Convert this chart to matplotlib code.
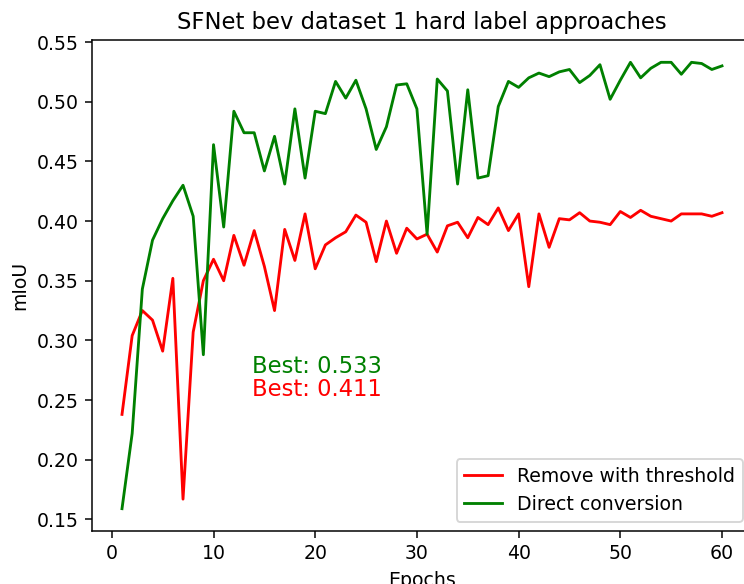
import matplotlib
matplotlib.use("Agg")
import matplotlib.pyplot as plt

DPI = 136

epochs = list(range(1, 61))

# mIoU per epoch, hard labels with low-confidence pixels removed
miou_threshold = [0.238, 0.304, 0.325, 0.317, 0.291, 0.352, 0.167, 0.307, 0.350, 0.368,
                  0.350, 0.388, 0.363, 0.392, 0.362, 0.325, 0.393, 0.367, 0.406, 0.360,
                  0.380, 0.386, 0.391, 0.405, 0.399, 0.366, 0.400, 0.373, 0.394, 0.385,
                  0.389, 0.374, 0.396, 0.399, 0.386, 0.403, 0.397, 0.411, 0.392, 0.406,
                  0.345, 0.406, 0.378, 0.402, 0.401, 0.407, 0.400, 0.399, 0.397, 0.408,
                  0.403, 0.409, 0.404, 0.402, 0.400, 0.406, 0.406, 0.406, 0.404, 0.407]

# mIoU per epoch, soft labels converted directly to hard labels
miou_direct = [0.159, 0.222, 0.343, 0.384, 0.402, 0.417, 0.430, 0.404, 0.288, 0.464,
               0.395, 0.492, 0.474, 0.474, 0.442, 0.471, 0.431, 0.494, 0.436, 0.492,
               0.490, 0.517, 0.503, 0.518, 0.494, 0.460, 0.479, 0.514, 0.515, 0.494,
               0.389, 0.519, 0.509, 0.431, 0.510, 0.436, 0.438, 0.496, 0.517, 0.512,
               0.520, 0.524, 0.521, 0.525, 0.527, 0.516, 0.522, 0.531, 0.502, 0.518,
               0.533, 0.520, 0.528, 0.533, 0.533, 0.523, 0.533, 0.532, 0.527, 0.530]

fig = plt.figure(figsize=(744 / DPI, 584 / DPI), dpi=DPI)
ax = fig.add_axes([92 / 744, 1 - 531 / 584, (752 - 92) / 744, (531 - 40) / 584])

ax.plot(epochs, miou_threshold, color="red", label="Remove with threshold")
ax.plot(epochs, miou_direct, color="green", label="Direct conversion")

ax.text(13.8, 0.273, "Best: %.3f" % max(miou_direct), color="green", fontsize=12)
ax.text(13.8, 0.253, "Best: %.3f" % max(miou_threshold), color="red", fontsize=12)

ax.set_title("SFNet bev dataset 1 hard label approaches")
ax.set_xlabel("Epochs")
ax.set_ylabel("mIoU")
ax.legend(loc="lower right")

fig.savefig("out.png", dpi=DPI)
